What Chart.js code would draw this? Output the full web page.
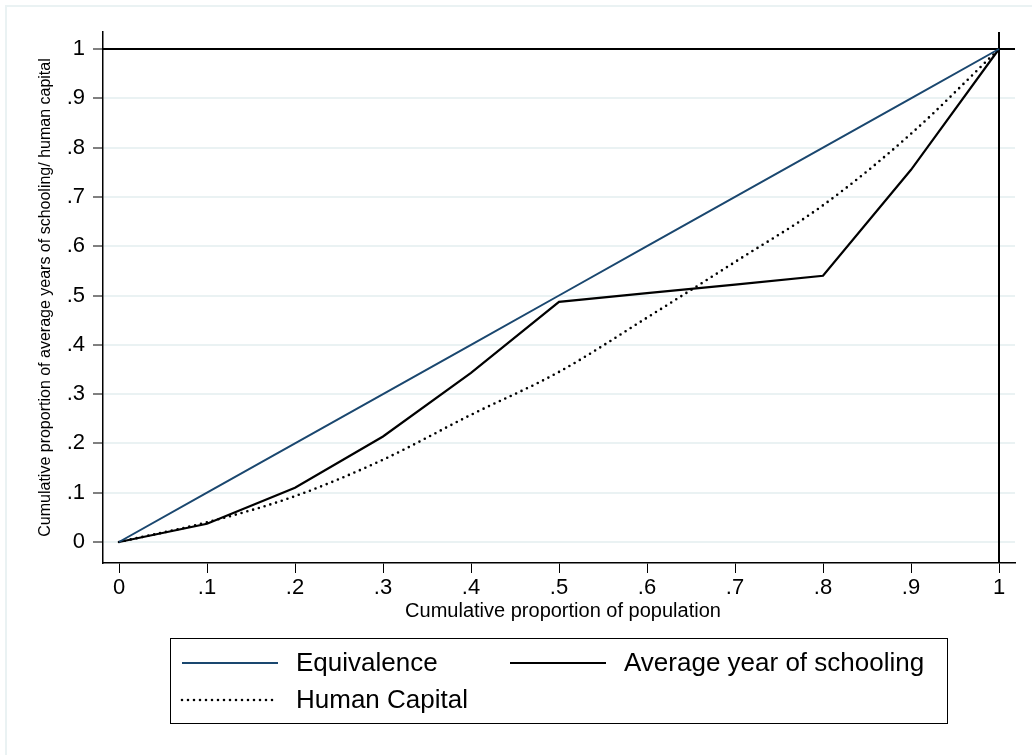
<!DOCTYPE html>
<html>
<head>
<meta charset="utf-8">
<script src="https://cdn.jsdelivr.net/npm/chart.js@4/dist/chart.umd.min.js"></script>
<style>
  html, body { margin: 0; padding: 0; background: #ffffff; }
  canvas { display: block; }
</style>
</head>
<body>
<canvas id="lorenz" width="1032" height="755"></canvas>
<script>
// Cumulative share of population (x) and the three curves
const popShare     = [0, 0.1, 0.2, 0.3, 0.4, 0.5, 0.6, 0.7, 0.8, 0.9, 1];
const equivalence  = [0, 0.1, 0.2, 0.3, 0.4, 0.5, 0.6, 0.7, 0.8, 0.9, 1];
const schooling    = [0, 0.037, 0.110, 0.214, 0.343, 0.487, 0.505, 0.522, 0.540, 0.755, 1];
const humanCapital = [0, 0.040, 0.093, 0.167, 0.258, 0.345, 0.455, 0.568, 0.683, 0.828, 1];

const seriesNames = ['Equivalence', 'Average year of schooling', 'Human Capital'];

const xTickValues = [0, 0.1, 0.2, 0.3, 0.4, 0.5, 0.6, 0.7, 0.8, 0.9, 1];
const xTickLabels = ['0', '.1', '.2', '.3', '.4', '.5', '.6', '.7', '.8', '.9', '1'];
const yTickValues = [0, 0.1, 0.2, 0.3, 0.4, 0.5, 0.6, 0.7, 0.8, 0.9, 1];
const yTickLabels = ['0', '.1', '.2', '.3', '.4', '.5', '.6', '.7', '.8', '.9', '1'];

const xTitle = 'Cumulative proportion of population';
const yTitle = 'Cumulative proportion of average years of schooling/ human capital';

const FONT = "'Liberation Sans', Arial, sans-serif";
const NAVY = '#1a476f';
const GRID = '#eaf2f3';

const toPoints = (ys) => popShare.map((x, i) => ({ x: x, y: ys[i] }));

// Reference lines at x = 1 and y = 1, outer frame, axis titles and legend
const decorations = {
  id: 'decorations',
  beforeDraw(chart) {
    const ctx = chart.ctx;
    ctx.save();
    ctx.fillStyle = '#ffffff';
    ctx.fillRect(0, 0, chart.width, chart.height);
    ctx.strokeStyle = GRID;
    ctx.lineWidth = 2;
    ctx.beginPath();
    ctx.moveTo(chart.width + 2, 6);
    ctx.lineTo(6, 6);
    ctx.lineTo(6, chart.height + 2);
    ctx.stroke();
    ctx.restore();
  },
  beforeDatasetsDraw(chart) {
    const { ctx, chartArea, scales } = chart;
    const xs = scales.x, ys = scales.y;
    ctx.save();
    ctx.strokeStyle = '#000000';
    ctx.lineWidth = 2;
    const y1 = ys.getPixelForValue(1);
    const x1 = xs.getPixelForValue(1);
    ctx.beginPath();
    ctx.moveTo(chartArea.left, y1);
    ctx.lineTo(chartArea.right, y1);
    ctx.moveTo(x1, chartArea.top);
    ctx.lineTo(x1, chartArea.bottom);
    ctx.stroke();
    ctx.restore();
  },
  afterDraw(chart) {
    const { ctx, chartArea } = chart;
    ctx.save();
    ctx.fillStyle = '#000000';
    // axis titles
    ctx.font = '20px ' + FONT;
    ctx.textAlign = 'center';
    ctx.textBaseline = 'middle';
    ctx.fillText(xTitle, (chartArea.left + chartArea.right) / 2 + 4, 611);
    ctx.save();
    ctx.translate(46, (chartArea.top + chartArea.bottom) / 2);
    ctx.rotate(-Math.PI / 2);
    ctx.font = '16px ' + FONT;
    ctx.fillText(yTitle, 0, 0);
    ctx.restore();

    // legend box
    ctx.strokeStyle = '#000000';
    ctx.lineWidth = 1;
    ctx.strokeRect(170.5, 638.5, 777, 85);
    const slots = [
      { x: 182, y: 663 },
      { x: 510, y: 663 },
      { x: 182, y: 700 }
    ];
    chart.data.datasets.forEach((ds, i) => {
      const s = slots[i];
      ctx.save();
      ctx.strokeStyle = ds.borderColor;
      ctx.lineWidth = ds.borderWidth;
      ctx.lineCap = ds.borderCapStyle || 'butt';
      ctx.setLineDash(ds.borderDash || []);
      ctx.beginPath();
      ctx.moveTo(s.x, s.y);
      ctx.lineTo(s.x + 96, s.y);
      ctx.stroke();
      ctx.restore();
      ctx.font = '26px ' + FONT;
      ctx.textAlign = 'left';
      ctx.textBaseline = 'middle';
      ctx.fillStyle = '#000000';
      ctx.fillText(ds.label, s.x + 114, s.y + 1);
    });
    ctx.restore();
  }
};

new Chart(document.getElementById('lorenz'), {
  type: 'line',
  data: {
    datasets: [
      {
        label: seriesNames[0],
        data: toPoints(equivalence),
        borderColor: NAVY,
        borderWidth: 2,
        pointRadius: 0,
        tension: 0
      },
      {
        label: seriesNames[1],
        data: toPoints(schooling),
        borderColor: '#000000',
        borderWidth: 2.2,
        pointRadius: 0,
        tension: 0
      },
      {
        label: seriesNames[2],
        data: toPoints(humanCapital),
        borderColor: '#000000',
        borderWidth: 2.6,
        borderDash: [0, 6],
        borderCapStyle: 'round',
        pointRadius: 0,
        cubicInterpolationMode: 'monotone'
      }
    ]
  },
  options: {
    responsive: false,
    animation: false,
    devicePixelRatio: 1,
    layout: { padding: { left: 0, right: 17, top: 32, bottom: 0 } },
    plugins: {
      legend: { display: false },
      tooltip: { enabled: false }
    },
    scales: {
      x: {
        type: 'linear',
        min: -16 / 880,
        max: 1 + 16 / 880,
        afterBuildTicks: (scale) => { scale.ticks = xTickValues.map(v => ({ value: v })); },
        afterFit: (scale) => { scale.height = 192; },
        ticks: {
          autoSkip: false,
          maxRotation: 0,
          padding: 2,
          color: '#000000',
          font: { family: FONT, size: 22 },
          callback: (value, index) => xTickLabels[index]
        },
        grid: {
          drawOnChartArea: false,
          drawTicks: true,
          tickLength: 10,
          tickColor: '#000000',
          tickWidth: 1
        },
        border: { display: true, color: '#000000', width: 1.5 }
      },
      y: {
        type: 'linear',
        min: -21 / 493,
        max: 1 + 17 / 493,
        afterBuildTicks: (scale) => { scale.ticks = yTickValues.map(v => ({ value: v })); },
        afterFit: (scale) => { scale.width = 103; },
        ticks: {
          autoSkip: false,
          padding: 8,
          color: '#000000',
          font: { family: FONT, size: 22 },
          callback: (value, index) => yTickLabels[index]
        },
        grid: {
          color: GRID,
          lineWidth: 2,
          drawTicks: true,
          tickLength: 10,
          tickColor: '#000000',
          tickWidth: 1
        },
        border: { display: true, color: '#000000', width: 1.5 }
      }
    }
  },
  plugins: [decorations]
});
</script>
</body>
</html>
